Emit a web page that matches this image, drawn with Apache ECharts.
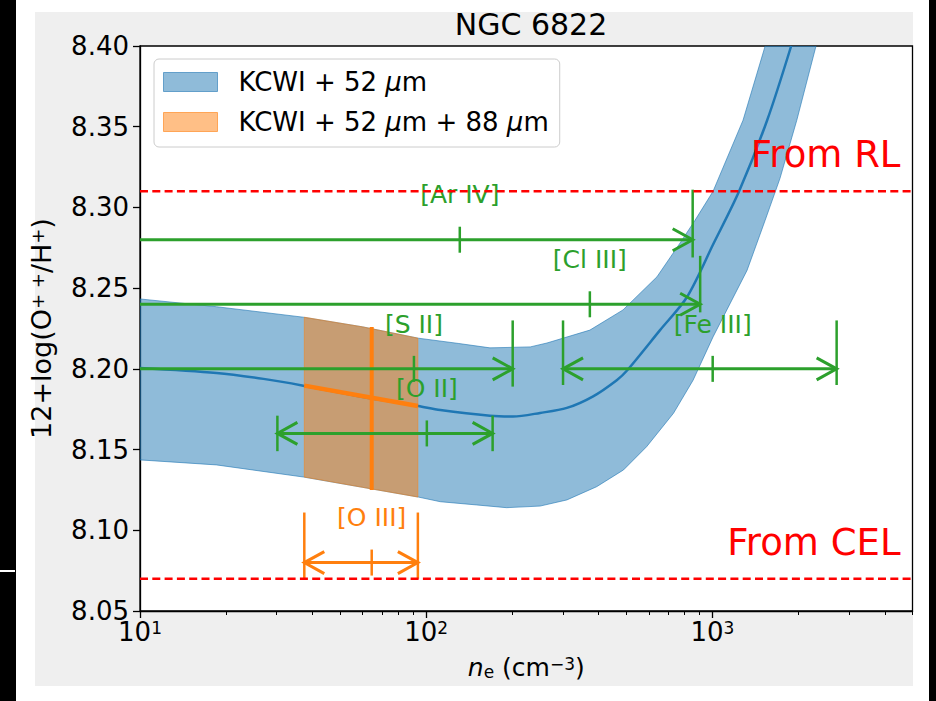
<!DOCTYPE html>
<html>
<head>
<meta charset="utf-8">
<script src="https://cdn.jsdelivr.net/npm/echarts@6/dist/echarts.min.js"></script>
<style>
html, body { margin: 0; padding: 0; background: #000; width: 936px; height: 701px; overflow: hidden; }
#frame { position: absolute; left: 16px; top: 0; width: 913px; height: 701px; background: #fff; }
#fig { position: absolute; left: 35px; top: 12px; width: 878px; height: 674px; background: #efefef; }
#mark { position: absolute; left: 0; top: 570px; width: 15px; height: 2px; background: #fff; }
#chart { position: absolute; left: 0; top: 0; width: 936px; height: 701px; }
</style>
</head>
<body>
<div id="frame"></div>
<div id="fig"></div>
<div id="mark"></div>
<div id="chart"></div>
<script>
// KCWI + 52 um band: upper edge, lower edge, centre line
var neUp = [10, 18.5, 37.2, 60, 93.8, 130, 167, 231, 264, 373, 487, 640, 771, 869, 1005, 1279, 1528];
var vUp = [8.2433, 8.2385, 8.232, 8.226, 8.219, 8.2157, 8.213, 8.2136, 8.216, 8.224, 8.2365, 8.257, 8.278, 8.292, 8.31, 8.354, 8.40];
var neLo = [10, 18.5, 37.2, 60, 93.8, 112, 150, 191, 250, 310, 394, 489, 589, 731, 856, 1005, 1321, 1528, 1722, 1971, 2301];
var vLo = [8.1436, 8.1405, 8.133, 8.1266, 8.1206, 8.1177, 8.1157, 8.114, 8.115, 8.1188, 8.127, 8.1374, 8.1518, 8.1725, 8.193, 8.2198, 8.261, 8.292, 8.318, 8.354, 8.40];
var neMid = [10, 18.5, 27, 37.2, 60, 93.8, 112, 167, 201, 250, 310, 383, 463, 503, 656, 815, 1005, 1239, 1553, 1884];
var vMid = [8.2006, 8.1975, 8.1938, 8.1896, 8.1825, 8.177, 8.1745, 8.171, 8.1705, 8.1727, 8.1758, 8.183, 8.193, 8.199, 8.224, 8.2445, 8.277, 8.31, 8.354, 8.40];

// KCWI + 52 um + 88 um band
var neO = [37.5, 60, 93.5];
var vOUp = [8.232, 8.226, 8.219];
var vOLo = [8.133, 8.1266, 8.1206];
var neOLine = [37.5, 93.5];
var vOLine = [8.1896, 8.177];
var neOVert = 64.5;
var vOVert = [8.226, 8.125];

// density diagnostics
var diagNames = ['[Ar IV]', '[Cl III]', '[S II]', '[O II]', '[Fe III]', '[O III]'];
var diagY = [8.28, 8.24, 8.20, 8.16, 8.20, 8.08];
var diagLo = [null, null, null, 30.2, 300.6, 37.5];
var diagHi = [853, 906, 200.5, 170.6, 2716, 93.5];
var diagMid = [131, 373, 90.6, 100.5, 1002, 64.5];
var capLo = [8.269, 8.235, 8.189, 8.149, 8.19, 8.07];
var capHi = [8.311, 8.27, 8.23, 8.171, 8.23, 8.111];
var diagColor = ['#2ca02c', '#2ca02c', '#2ca02c', '#2ca02c', '#2ca02c', '#ff7f0e'];

// reference abundances
var refNames = ['From RL', 'From CEL'];
var refY = [8.31, 8.07];

var xTicks = [10, 100, 1000];
var xMinor = [20, 30, 40, 50, 60, 70, 80, 90, 200, 300, 400, 500, 600, 700, 800, 900, 2000, 3000, 4000, 5000];

var FONT = 'DejaVu Sans';
function richSet(size, sup, lift) {
    return {
        b: { fontSize: size, fontFamily: FONT, color: '#000', lineHeight: size },
        i: { fontSize: size, fontFamily: FONT, color: '#000', lineHeight: size, fontStyle: 'italic' },
        s: { fontSize: sup, fontFamily: FONT, color: '#000', lineHeight: sup, verticalAlign: 'top', padding: [0, 0, lift, 0] },
        d: { fontSize: sup, fontFamily: FONT, color: '#000', lineHeight: sup, verticalAlign: 'bottom' }
    };
}

function zip(a, b) {
    return a.map(function (v, i) { return [v, b[i]]; });
}

function bandRender(xu, yu, xl, yl, fill, stroke) {
    return function (params, api) {
        var pts = [];
        for (var i = 0; i < xu.length; i++) pts.push(api.coord([xu[i], yu[i]]));
        for (var j = xl.length - 1; j >= 0; j--) pts.push(api.coord([xl[j], yl[j]]));
        return {
            type: 'polygon',
            shape: { points: pts, smooth: 0 },
            style: { fill: fill, stroke: stroke, lineWidth: 1 }
        };
    };
}

var chart = echarts.init(document.getElementById('chart'), null, { renderer: 'svg' });

var option = {
    backgroundColor: 'transparent',
    animation: false,
    title: {
        text: 'NGC 6822',
        left: 526,
        textAlign: 'center',
        top: 4,
        textStyle: { fontFamily: FONT, fontSize: 30, fontWeight: 'normal', color: '#000' }
    },
    legend: {
        orient: 'vertical',
        left: 154,
        top: 59,
        padding: [10, 11, 12, 9],
        itemWidth: 54,
        itemHeight: 19,
        itemGap: 14,
        icon: 'rect',
        backgroundColor: 'rgba(255,255,255,0.8)',
        borderColor: '#cccccc',
        borderWidth: 1,
        borderRadius: 5,
        selectedMode: false,
        textStyle: {
            fontFamily: FONT, fontSize: 26, color: '#000', padding: [0, 0, 0, 16],
            rich: { i: { fontFamily: FONT, fontSize: 26, fontStyle: 'italic', color: '#000' } }
        },
        formatter: function (name) {
            return name.replace(/μ/g, '{i|μ}');
        },
        data: [
            { name: 'KCWI + 52 μm', itemStyle: { color: 'rgba(31,119,180,0.5)', borderColor: 'rgba(31,119,180,0.6)', borderWidth: 1 } },
            { name: 'KCWI + 52 μm + 88 μm', itemStyle: { color: 'rgba(255,127,14,0.5)', borderColor: 'rgba(255,127,14,0.6)', borderWidth: 1 } }
        ]
    },
    grid: {
        left: 140, top: 46, right: 23.5, bottom: 90,
        show: true, backgroundColor: '#fff', borderColor: '#000', borderWidth: 1.3,
        containLabel: false, outerBoundsMode: 'none'
    },
    xAxis: [{
        type: 'log', logBase: 10, min: 10, max: 5000,
        name: '{i|n}{d|e}{b| (cm}{s|−3}{b|)}',
        nameLocation: 'middle', nameGap: 44,
        nameTextStyle: { rich: richSet(25, 17, 14) },
        axisLine: { show: true, lineStyle: { color: '#000', width: 1.3 } },
        axisTick: { show: true, length: 7, lineStyle: { color: '#000', width: 1.3 }, customValues: xTicks },
        axisLabel: {
            margin: 8, customValues: xTicks,
            formatter: function (v) { return '{b|10}{s|' + Math.round(Math.log10(v)) + '}'; },
            rich: richSet(26, 17, 14)
        },
        splitLine: { show: false }
    }, {
        type: 'log', logBase: 10, min: 10, max: 5000, position: 'bottom', offset: 0,
        axisLine: { show: false },
        axisTick: { show: true, length: 4, lineStyle: { color: '#000', width: 1 }, customValues: xMinor },
        axisLabel: { show: false },
        splitLine: { show: false }
    }],
    yAxis: {
        type: 'value', min: 8.05, max: 8.40, interval: 0.05,
        name: '{b|12+log(O}{s|+ +}{b|/H}{s|+}{b|)}',
        nameLocation: 'middle', nameGap: 78, nameRotate: 90,
        nameTextStyle: { rich: richSet(27, 18, 14) },
        axisLine: { show: true, lineStyle: { color: '#000', width: 1.3 } },
        axisTick: { show: true, length: 7, lineStyle: { color: '#000', width: 1.3 } },
        axisLabel: {
            margin: 11, fontFamily: FONT, fontSize: 26, color: '#000',
            formatter: function (v) { return v.toFixed(2); }
        },
        splitLine: { show: false }
    },
    series: [
        {
            type: 'custom', name: 'KCWI + 52 μm', z: 1, clip: true,
            itemStyle: { color: 'rgba(31,119,180,0.5)' },
            data: [[neUp[0], vUp[0]]],
            renderItem: bandRender(neUp, vUp, neLo, vLo, 'rgba(31,119,180,0.5)', 'rgba(31,119,180,0.6)')
        },
        {
            type: 'line', z: 2, showSymbol: false, smooth: 0.3, clip: true,
            data: zip(neMid, vMid),
            lineStyle: { color: '#1f77b4', width: 2.5 }
        },
        {
            type: 'custom', name: 'KCWI + 52 μm + 88 μm', z: 3, clip: true,
            itemStyle: { color: 'rgba(255,127,14,0.5)' },
            data: [[neO[0], vOUp[0]]],
            renderItem: bandRender(neO, vOUp, neO, vOLo, 'rgba(255,127,14,0.5)', 'rgba(255,127,14,0.5)')
        },
        {
            type: 'line', z: 4, showSymbol: false,
            data: zip(neOLine, vOLine),
            lineStyle: { color: '#ff7f0e', width: 4.5 }
        },
        {
            type: 'line', z: 4, showSymbol: false,
            data: [[neOVert, vOVert[0]], [neOVert, vOVert[1]]],
            lineStyle: { color: '#ff7f0e', width: 4 }
        },
        {
            type: 'custom', z: 5, clip: true,
            data: diagNames.map(function (n, i) { return [diagMid[i], diagY[i]]; }),
            renderItem: function (params, api) {
                var i = params.dataIndex;
                var cs = params.coordSys;
                var col = diagColor[i];
                var c = api.coord([diagMid[i], diagY[i]]);
                var y = c[1];
                var hi = api.coord([diagHi[i], diagY[i]]);
                var x0 = diagLo[i] === null ? cs.x : api.coord([diagLo[i], diagY[i]])[0];
                var kids = [];
                var ls = { stroke: col, lineWidth: 3, fill: null };
                kids.push({ type: 'line', shape: { x1: x0, y1: y, x2: hi[0], y2: y }, style: ls });
                // arrow at upper end
                kids.push({ type: 'polyline', shape: { points: [[hi[0] - 20, y - 11], [hi[0], y], [hi[0] - 20, y + 11]] }, style: ls });
                var ch1 = api.coord([diagHi[i], capLo[i]]), ch2 = api.coord([diagHi[i], capHi[i]]);
                kids.push({ type: 'line', shape: { x1: hi[0], y1: ch1[1], x2: hi[0], y2: ch2[1] }, style: { stroke: col, lineWidth: 2.5 } });
                if (diagLo[i] !== null) {
                    kids.push({ type: 'polyline', shape: { points: [[x0 + 20, y - 11], [x0, y], [x0 + 20, y + 11]] }, style: ls });
                    kids.push({ type: 'line', shape: { x1: x0, y1: ch1[1], x2: x0, y2: ch2[1] }, style: { stroke: col, lineWidth: 2.5 } });
                }
                kids.push({ type: 'line', shape: { x1: c[0], y1: y - 13, x2: c[0], y2: y + 13 }, style: { stroke: col, lineWidth: 2.5 } });
                var lp = api.coord([diagMid[i], diagY[i] + 0.02]);
                kids.push({
                    type: 'text', x: lp[0], y: lp[1],
                    style: {
                        text: diagNames[i], fill: col, font: '25px "DejaVu Sans"',
                        align: 'center', verticalAlign: 'bottom', textAlign: 'center', textVerticalAlign: 'bottom'
                    }
                });
                return { type: 'group', children: kids };
            }
        },
        {
            type: 'custom', z: 6, clip: false,
            data: refNames.map(function (n, i) { return [10, refY[i]]; }),
            renderItem: function (params, api) {
                var i = params.dataIndex;
                var cs = params.coordSys;
                var p = api.coord([10, refY[i]]);
                return {
                    type: 'group',
                    children: [
                        { type: 'line', shape: { x1: cs.x, y1: p[1], x2: cs.x + cs.width, y2: p[1] },
                          style: { stroke: '#ff0000', lineWidth: 2.5, lineDash: [8, 4.3] } },
                        { type: 'text', x: cs.x + cs.width - 12, y: p[1] - 18,
                          style: { text: refNames[i], fill: '#ff0000', font: '37px "DejaVu Sans"',
                                   align: 'right', verticalAlign: 'bottom', textAlign: 'right', textVerticalAlign: 'bottom' } }
                    ]
                };
            }
        }
    ]
};

chart.setOption(option);
</script>
</body>
</html>
